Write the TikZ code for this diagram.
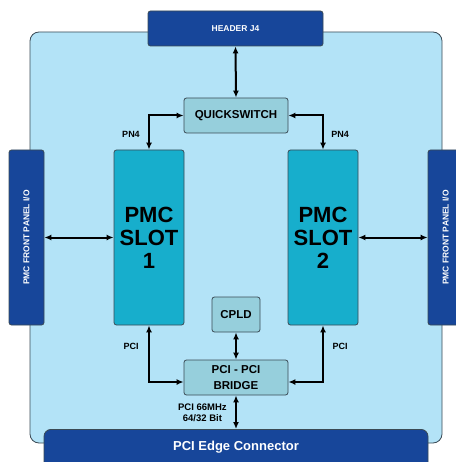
\documentclass[tikz,border=0pt]{standalone}
\usepackage{fontspec}
\setmainfont{Liberation Sans}
\usetikzlibrary{arrows.meta}
\definecolor{boardblue}{HTML}{B3E3F7}
\definecolor{darkblue}{HTML}{17469A}
\definecolor{slotblue}{HTML}{17AECC}
\definecolor{chipblue}{HTML}{96CFDC}
\definecolor{edgegray}{HTML}{3A4A55}
\tikzset{
  blk/.style={draw=edgegray,line width=0.8pt,rounded corners=2.5pt,inner sep=0pt,align=center,font=\bfseries},
  conn/.style={blk,fill=darkblue,text=white},
  slot/.style={blk,fill=slotblue,minimum width=70pt,minimum height=175pt,font=\fontsize{22}{23}\bfseries\selectfont},
  chip/.style={blk,fill=chipblue,minimum height=35pt,font=\fontsize{11.5}{16}\bfseries\selectfont},
  lbl/.style={font=\fontsize{9}{10}\bfseries\selectfont,align=center}
}
\begin{document}
\begin{tikzpicture}[x=1pt,y=-1pt,>={Latex[length=7pt,width=6pt]},line width=2pt]
\useasboundingbox (0,0) rectangle (455,462);
\fill[boardblue,draw=edgegray,line width=0.8pt,rounded corners=9pt] (30,32) rectangle (442,443);
\node[conn,minimum width=175pt,minimum height=35pt,font=\fontsize{8.5}{9}\bfseries\selectfont] (hdr) at (235.5,28.5) {HEADER J4};
\node[chip,minimum width=104pt] (qs) at (236,115.5) {QUICKSWITCH};
\node[slot] (slot1) at (149,237.5) {PMC\\SLOT\\1};
\node[slot] (slot2) at (323,237.5) {PMC\\SLOT\\2};
\node[conn,minimum width=35pt,minimum height=175pt] (fpl) at (26.5,237.5) {};
\node[conn,minimum width=35pt,minimum height=175pt] (fpr) at (445.5,237.5) {};
\node[rotate=90,text=white,font=\fontsize{8.5}{9}\bfseries\selectfont] (fpltxt) at (fpl.center) {PMC FRONT PANEL I/O};
\node[rotate=90,text=white,font=\fontsize{8.5}{9}\bfseries\selectfont] (fprtxt) at (fpr.center) {PMC FRONT PANEL I/O};
\node[chip,minimum width=48pt] (cpld) at (236,314.5) {CPLD};
\node[chip,minimum width=104pt] (brg) at (236,377.5) {PCI - PCI\\BRIDGE};
\node[conn,minimum width=384pt,minimum height=44pt,rounded corners=7pt,anchor=north] (edge) at (236,429) {};
\node[text=white,font=\fontsize{13}{14}\bfseries\selectfont] (edgetxt) at (236,447) {PCI Edge Connector};
\draw[<->] (hdr.south) -- (qs.north);
\draw[<->] (qs.west) -| (slot1.north);
\draw[<->] (qs.east) -| (slot2.north);
\draw[<->] (fpl.east) -- (slot1.west);
\draw[<->] (slot2.east) -- (fpr.west);
\draw[<->] (slot1.south) |- ([yshift=-4.5pt]brg.west);
\draw[<->] (slot2.south) |- ([yshift=-4.5pt]brg.east);
\draw[<->] (cpld.south) -- (brg.north);
\draw[<->] (brg.south) -- (edge.north-|brg.south);
\node[lbl] (pn4l) at (131,134) {PN4};
\node[lbl] (pn4r) at (340,134) {PN4};
\node[lbl] (pcil) at (131,346) {PCI};
\node[lbl] (pcir) at (340,346) {PCI};
\node[lbl,anchor=east,font=\fontsize{9.5}{10.5}\bfseries\selectfont] (speed) at (231,413) {PCI 66MHz\\64/32 Bit};
\end{tikzpicture}
\end{document}
